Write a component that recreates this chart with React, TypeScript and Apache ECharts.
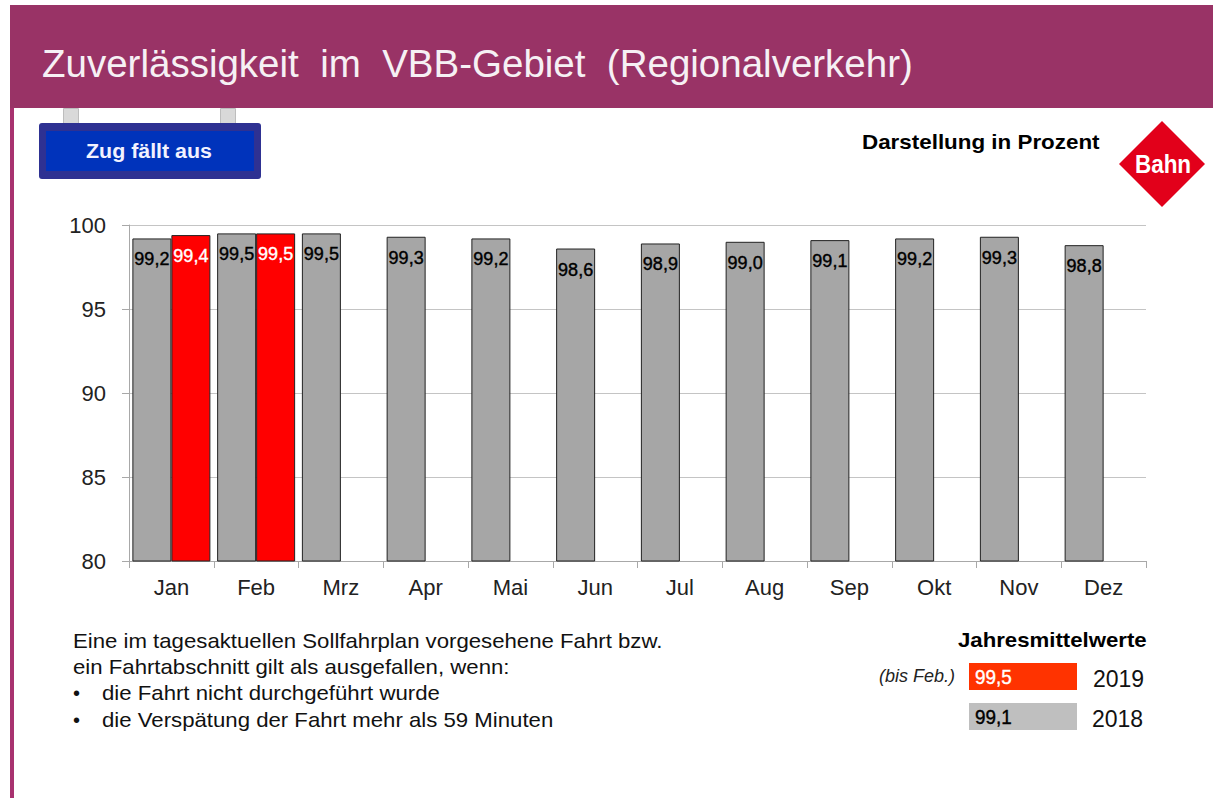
import React, { useEffect, useRef } from "react";
import * as echarts from "echarts";

const months = ["Jan", "Feb", "Mrz", "Apr", "Mai", "Jun", "Jul", "Aug", "Sep", "Okt", "Nov", "Dez"];
const values2018 = [99.2, 99.5, 99.5, 99.3, 99.2, 98.6, 98.9, 99.0, 99.1, 99.2, 99.3, 98.8];
const values2019: (number | null)[] = [99.4, 99.5, null, null, null, null, null, null, null, null, null, null];
const yTicks = { min: 80, max: 100, interval: 5 };
const noteLines = [
  "Eine im tagesaktuellen Sollfahrplan vorgesehene Fahrt bzw.",
  "ein Fahrtabschnitt gilt als ausgefallen, wenn:",
];
const bulletLines = ["die Fahrt nicht durchgeführt wurde", "die Verspätung der Fahrt mehr als 59 Minuten"];

const SANS = "'Liberation Sans', Arial, sans-serif";
const comma = (v: number) => v.toFixed(1).replace(".", ",");

const txt = (x: number, y: number, text: string, font: number, extra: any = {}, scaleX = 1) => ({
  type: "text",
  x,
  y,
  scaleX,
  silent: true,
  style: {
    text,
    fontSize: font,
    fontFamily: SANS,
    fill: "#111",
    verticalAlign: "middle",
    ...extra,
  },
});
const box = (x: number, y: number, width: number, height: number, fill: string, r = 0, stroke?: string) => ({
  type: "rect",
  silent: true,
  shape: { x, y, width, height, r },
  style: stroke ? { fill, stroke, lineWidth: 1 } : { fill },
});

export default function App() {
  const ref = useRef<HTMLDivElement>(null);
  useEffect(() => {
    const chart = echarts.init(ref.current!, undefined, { renderer: "svg" });
    const barLabel = (color: string) => ({
      show: true,
      position: "insideTop",
      distance: 12,
      color,
      fontFamily: SANS,
      fontSize: 18,
      textBorderColor: color,
      textBorderWidth: 0.4,
      formatter: (p: any) => comma(p.value),
    });
    chart.setOption({
      animation: false,
      backgroundColor: "#fff",
      grid: { left: 129, right: 69, top: 225, bottom: 237 },
      xAxis: {
        type: "category",
        data: months,
        boundaryGap: true,
        axisLine: { lineStyle: { color: "#a8a8a8", width: 1 } },
        axisTick: { show: true, alignWithLabel: false, length: 7, lineStyle: { color: "#a8a8a8" } },
        axisLabel: { color: "#222", fontFamily: SANS, fontSize: 22, margin: 15 },
      },
      yAxis: {
        type: "value",
        ...yTicks,
        axisLine: { show: true, lineStyle: { color: "#a8a8a8", width: 1 } },
        axisTick: { show: true, length: 7, lineStyle: { color: "#a8a8a8" } },
        axisLabel: { color: "#222", fontFamily: SANS, fontSize: 22, margin: 23 },
        splitLine: { show: true, lineStyle: { color: "#c4c4c4", width: 1 } },
      },
      series: [
        {
          type: "bar",
          name: "2018",
          data: values2018,
          barWidth: 39,
          barGap: "0%",
          itemStyle: { color: "#a6a6a6", borderColor: "#222", borderWidth: 1 },
          label: barLabel("#000"),
        },
        {
          type: "bar",
          name: "2019",
          data: values2019,
          barWidth: 39,
          itemStyle: { color: "#ff0000", borderColor: "#222", borderWidth: 1 },
          label: barLabel("#fff"),
        },
      ],
      graphic: {
        elements: [
          box(10, 5, 1203, 103, "#993366"),
          box(10, 108, 4, 690, "#a8326f"),
          txt(42, 63, "Zuverlässigkeit  im  VBB-Gebiet  (Regionalverkehr)", 38.5, { fill: "#f6f0f4" }),
          box(63.5, 108.5, 15, 15, "#d9d9d9", 0, "#bdbdbd"),
          box(220.5, 108.5, 15, 15, "#d9d9d9", 0, "#bdbdbd"),
          box(39, 123, 222, 56, "#2e3192", 3),
          box(46, 131, 208, 40, "#0033bb"),
          txt(149, 151, "Zug fällt aus", 20, { fill: "#f2f2ff", fontWeight: "bold", align: "center" }, 1.07),
          txt(862, 142, "Darstellung in Prozent", 20, { fontWeight: "bold", fill: "#000" }, 1.12),
          {
            type: "polygon",
            silent: true,
            shape: { points: [[1162, 121], [1205, 164], [1162, 207], [1119, 164]] },
            style: { fill: "#e2001a" },
          },
          txt(1163, 164, "Bahn", 25, { fill: "#fff", fontWeight: "bold", align: "center" }, 0.9),
          ...noteLines.map((t, i) => txt(73, 641 + i * 26, t, 20, { fill: "#111" }, 1.11)),
          ...bulletLines.map((t, i) => [
            txt(73, 693 + i * 27, "•", 20),
            txt(102, 693 + i * 27, t, 20, {}, 1.11),
          ]).flat(),
          txt(958, 640, "Jahresmittelwerte", 20, { fontWeight: "bold", fill: "#000" }, 1.11),
          txt(879, 676, "(bis Feb.)", 18, { fontStyle: "italic", fill: "#222" }),
          box(969, 663, 108, 27, "#ff3300"),
          txt(975, 677, "99,5", 21, { fill: "#fff", stroke: "#fff", lineWidth: 0.4 }, 0.9),
          txt(1093, 679, "2019", 23),
          box(969, 703, 108, 27, "#bfbfbf"),
          txt(975, 717, "99,1", 21, { fill: "#000", stroke: "#000", lineWidth: 0.4 }, 0.9),
          txt(1092, 719, "2018", 23),
        ],
      },
    });
    return () => chart.dispose();
  }, []);
  return <div ref={ref} style={{ position: "fixed", left: 0, top: 0, width: 1215, height: 798 }} />;
}
